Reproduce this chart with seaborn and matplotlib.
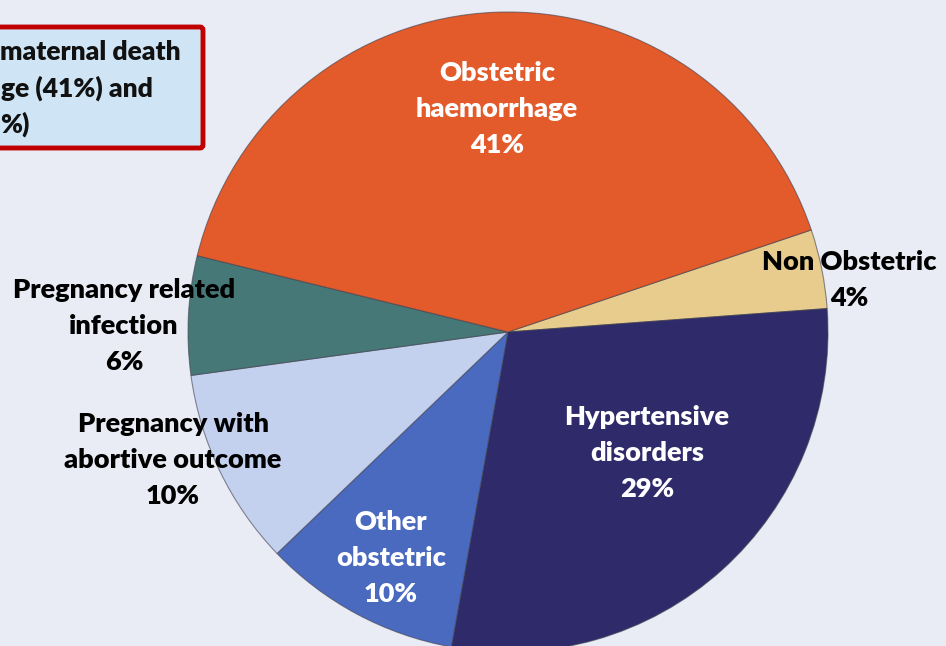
import matplotlib
matplotlib.use("Agg")
import matplotlib.pyplot as plt
import seaborn as sns
from matplotlib.patches import FancyBboxPatch

# Dados do gráfico (causas de morte materna)
causas = ['Non Obstetric', 'Hypertensive\ndisorders', 'Other\nobstetric',
          'Pregnancy with\nabortive outcome', 'Pregnancy related\ninfection',
          'Obstetric\nhaemorrhage']
percentuais = [4, 29, 10, 10, 6, 41]
cores_hex = ['#e8cc8e', '#2f2b6b', '#4a6ac0', '#c3d1ef', '#477878', '#e35b2b']
# trechos visíveis do texto da caixa (cortado pela borda da imagem)
texto_caixa = ['maternal death', 'ge (41%) and', '%)']

# Estilo
sns.set_style("white")
plt.rcParams['font.family'] = ['Lato', 'DejaVu Sans']
cores = sns.color_palette(cores_hex)

W, H = 946, 646
fig = plt.figure(figsize=(W / 100, H / 100), dpi=100)
fundo = '#e9ecf5'
fig.patch.set_facecolor(fundo)
ax = fig.add_axes([0, 0, 1, 1])
ax.set_facecolor(fundo)

centro = (508, H - 332)
wedges, _ = ax.pie(percentuais, colors=cores, startangle=18.6, counterclock=False,
                   center=centro, radius=320,
                   wedgeprops=dict(edgecolor=(0.25, 0.25, 0.3, 0.6), linewidth=0.8))
ax.set_xlim(0, W)
ax.set_ylim(0, H)
ax.set_aspect('equal')
ax.axis('off')

# Posições dos rótulos (pixels, origem no topo) e cor do texto
pos_rotulos = [(849, 280), (647, 453), (391, 558), (173, 460), (124, 326), (497, 109)]
cor_texto = ['black', 'white', 'white', 'black', 'black', 'white']
for nome, pct, (x, y), c in zip(causas, percentuais, pos_rotulos, cor_texto):
    ax.text(x, H - y, f'{nome}\n{pct}%', ha='center', va='center', fontsize=19.5,
            fontweight='heavy', color=c, linespacing=1.6)

# Caixa de destaque no canto superior esquerdo
caixa = FancyBboxPatch((-30, H - 148), 233, 121, boxstyle='round,pad=0,rounding_size=3',
                       facecolor='#cfe4f4', edgecolor='#c00000', linewidth=3.5)
ax.add_patch(caixa)
for linha, x, y in zip(texto_caixa, [181, 153, 29], [52, 88, 124]):
    ax.text(x, H - y, linha, ha='right', va='center', fontsize=19,
            fontweight='heavy', color='#111111')

fig.savefig('out.png', dpi=100, facecolor=fundo)
